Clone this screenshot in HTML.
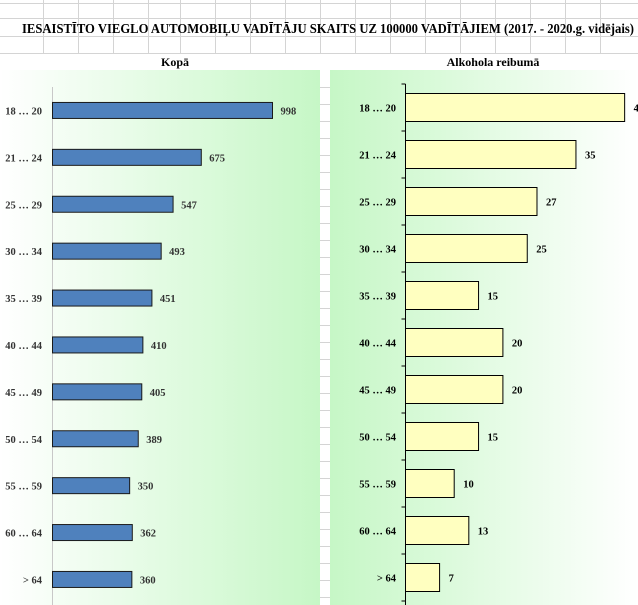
<!DOCTYPE html>
<html><head><meta charset="utf-8"><style>
html,body{margin:0;padding:0;background:#fff}
svg{display:block;font-family:"Liberation Serif",serif;font-weight:bold}
</style></head><body>
<svg id="c" width="638" height="605" viewBox="0 0 638 605">
<defs>
<linearGradient id="gl" x1="0" x2="1" y1="0" y2="0"><stop offset="0" stop-color="#ffffff"/><stop offset="1" stop-color="#c6f7c6"/></linearGradient>
<linearGradient id="gr" x1="0" x2="1" y1="0" y2="0"><stop offset="0" stop-color="#c6f7c6"/><stop offset="1" stop-color="#ffffff"/></linearGradient>
</defs>
<g id="grid" stroke="#d4d4d4" stroke-width="1"></g>
<rect x="0" y="70" width="320" height="535" fill="url(#gl)"/>
<rect x="330" y="70" width="308" height="535" fill="url(#gr)"/>
<text x="328" y="33" font-size="13.5" text-anchor="middle" textLength="612" lengthAdjust="spacingAndGlyphs" fill="#000">IESAISTĪTO VIEGLO AUTOMOBIĻU  VADĪTĀJU SKAITS UZ 100000 VADĪTĀJIEM (2017. - 2020.g. vidējais)</text>
<text x="175" y="66" font-size="12" text-anchor="middle" fill="#000">Kopā</text>
<text x="493" y="66" font-size="12" text-anchor="middle" fill="#000">Alkohola reibumā</text>
<g id="left"></g>
<g id="right"></g>
</svg>
<script>
const categories=["18 … 20","21 … 24","25 … 29","30 … 34","35 … 39","40 … 44","45 … 49","50 … 54","55 … 59","60 … 64","> 64"];
const totalValues=[998,675,547,493,451,410,405,389,350,362,360];
const alcoholValues=[45,35,27,25,15,20,20,15,10,13,7];
const NS="http://www.w3.org/2000/svg";
function mk(p,t,a){const e=document.createElementNS(NS,t);for(const k in a)e.setAttribute(k,a[k]);p.appendChild(e);return e;}
// grid
const g=document.getElementById('grid');
[3,18,36,53].forEach(y=>{const l=mk(g,'line',{x1:0,x2:638,y1:y+.5,y2:y+.5});});
[43,78,113,148,180,215,250,285,320,355,390,425,460,495,530,565,600].forEach(x=>{const l=mk(g,'line',{x1:x+.5,x2:x+.5,y1:0,y2:53});});
for(let y=87;y<605;y+=17){const l=mk(g,'line',{x1:320,x2:330,y1:y+.5,y2:y+.5});}
// left chart axes
const L=document.getElementById('left');
const lx0=52.5, lScale=220/998;
const lTop=87, lStep=46.9;
function lx(v){return lx0+v*lScale;}
function ly(i){return lTop+lStep*(i+0.5);}
const la=mk(L,'line',{x1:lx0,x2:lx0,y1:lTop,y2:605,stroke:'#c8c8c8'});

categories.forEach((c,i)=>{
  const y=ly(i);
  const b=mk(L,'rect',{x:lx0,y:y-8,width:lx(totalValues[i])-lx0,height:16,fill:'#4f81bd',stroke:'#1a1a1a','stroke-width':1});
  
  const t=mk(L,'text',{x:42,y:y+4,'font-size':10.5,'text-anchor':'end',fill:'#333'});t.textContent=c;
  
  const v=mk(L,'text',{x:lx(totalValues[i])+8,y:y+4,'font-size':10.5,fill:'#333'});v.textContent=totalValues[i];
  
});
// right chart
const R=document.getElementById('right');
const rx0=405.5, rScale=4.87;
const rTop=84, rStep=47;
function rx(v){return rx0+v*rScale;}
function ry(i){return rTop+rStep*(i+0.5);}
const ra=mk(R,'line',{x1:rx0,x2:rx0,y1:rTop,y2:605,stroke:'#000'});

for(let i=0;i<=categories.length;i++){const tk=mk(R,'line',{x1:rx0-4,x2:rx0,y1:rTop+rStep*i,y2:rTop+rStep*i,stroke:'#000'});}
categories.forEach((c,i)=>{
  const y=ry(i);
  const b=mk(R,'rect',{x:rx0,y:y-14,width:rx(alcoholValues[i])-rx0,height:28,fill:'#ffffc0',stroke:'#000','stroke-width':1});
  
  const t=mk(R,'text',{x:396,y:y+4,'font-size':10.5,'text-anchor':'end',fill:'#000'});t.textContent=c;
  
  const v=mk(R,'text',{x:rx(alcoholValues[i])+9,y:y+4,'font-size':10.5,fill:'#000'});v.textContent=alcoholValues[i];
  
});
</script>
</body></html>
